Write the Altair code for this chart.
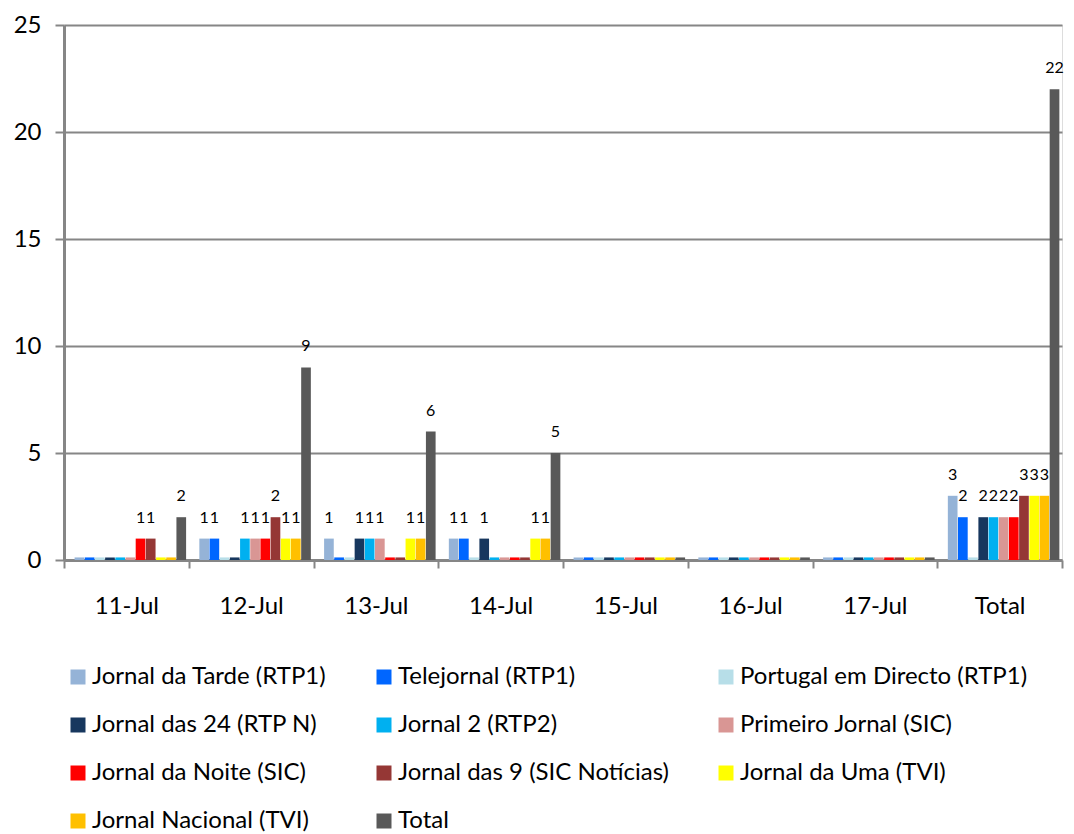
import altair as alt
import pandas as pd

dates = ["11-Jul", "12-Jul", "13-Jul", "14-Jul", "15-Jul", "16-Jul", "17-Jul", "Total"]

series = [
    "Jornal da Tarde (RTP1)",
    "Telejornal (RTP1)",
    "Portugal em Directo (RTP1)",
    "Jornal das 24 (RTP N)",
    "Jornal 2 (RTP2)",
    "Primeiro Jornal (SIC)",
    "Jornal da Noite (SIC)",
    "Jornal das 9 (SIC Notícias)",
    "Jornal da Uma (TVI)",
    "Jornal Nacional (TVI)",
    "Total",
]

colors = [
    "#95B3D7", "#0066FF", "#B7DEE8", "#17375E", "#00B0F0", "#D99694",
    "#FF0000", "#953735", "#FFFF00", "#FFC000", "#595959",
]

jornal_da_tarde = [0, 1, 1, 1, 0, 0, 0, 3]
telejornal = [0, 1, 0, 1, 0, 0, 0, 2]
portugal_em_directo = [0, 0, 0, 0, 0, 0, 0, 0]
jornal_das_24 = [0, 0, 1, 1, 0, 0, 0, 2]
jornal_2 = [0, 1, 1, 0, 0, 0, 0, 2]
primeiro_jornal = [0, 1, 1, 0, 0, 0, 0, 2]
jornal_da_noite = [1, 1, 0, 0, 0, 0, 0, 2]
jornal_das_9 = [1, 2, 0, 0, 0, 0, 0, 3]
jornal_da_uma = [0, 1, 1, 1, 0, 0, 0, 3]
jornal_nacional = [0, 1, 1, 1, 0, 0, 0, 3]
total = [2, 9, 6, 5, 0, 0, 0, 22]

all_values = [
    jornal_da_tarde, telejornal, portugal_em_directo, jornal_das_24, jornal_2,
    primeiro_jornal, jornal_da_noite, jornal_das_9, jornal_da_uma,
    jornal_nacional, total,
]

rows = []
for s, vals in zip(series, all_values):
    for d, v in zip(dates, vals):
        rows.append({"date": d, "series": s, "value": v})
df = pd.DataFrame(rows)

FONT = "Lato"

x_enc = alt.X(
    "date:N",
    sort=dates,
    scale=alt.Scale(paddingInner=0, paddingOuter=0),
    axis=alt.Axis(
        title=None, labelAngle=0, labelFont=FONT, labelFontSize=24,
        labelColor="#000000", labelPadding=26, tickBand="extent",
        domainColor="#868686", domainWidth=3, tickColor="#868686",
        tickWidth=2, tickSize=8, grid=False,
    ),
)
xoff_enc = alt.XOffset(
    "series:N", sort=series,
    scale=alt.Scale(paddingInner=0.05, paddingOuter=0.65, align=0.8),
)

bars = (
    alt.Chart(df)
    .transform_calculate(disp="max(datum.value, 0.12)")
    .mark_bar()
    .encode(
        x=x_enc,
        xOffset=xoff_enc,
        y=alt.Y(
            "disp:Q",
            scale=alt.Scale(domain=[0, 25], nice=False),
            axis=alt.Axis(
                title=None, values=[0, 5, 10, 15, 20, 25], labelFont=FONT,
                labelFontSize=24, labelColor="#000000", labelPadding=14,
                domainColor="#868686", domainWidth=3, tickColor="#868686",
                tickWidth=2, tickSize=9, grid=True, gridColor="#868686",
                gridWidth=2,
            ),
        ),
        color=alt.Color(
            "series:N",
            sort=series,
            scale=alt.Scale(domain=series, range=colors),
            legend=alt.Legend(
                title=None, orient="none", legendX=2, legendY=640,
                direction="horizontal",
                columns=3, columnPadding=45, rowPadding=24,
                symbolType="square", symbolSize=225, symbolStrokeWidth=0,
                labelFont=FONT, labelFontSize=24, labelColor="#000000",
                labelOffset=2, labelLimit=500, gridAlign="each",
            ),
        ),
    )
)

labels = (
    alt.Chart(df)
    .transform_filter("datum.value > 0")
    .mark_text(dy=-21, baseline="middle", font=FONT, fontSize=16, color="#000000")
    .encode(
        x=x_enc,
        xOffset=xoff_enc,
        y=alt.Y("value:Q"),
        text=alt.Text("value:Q"),
    )
)

chart = (
    alt.layer(bars, labels)
    .properties(
        width=998,
        height=535,
        autosize=alt.AutoSizeParams(type="none"),
        padding={"left": 56, "top": 17, "right": 4, "bottom": 274},
    )
    .configure_view(stroke=None)
    .configure(background="#FFFFFF")
)

chart.save("out.html", embed_options={"renderer": "svg", "actions": False})
